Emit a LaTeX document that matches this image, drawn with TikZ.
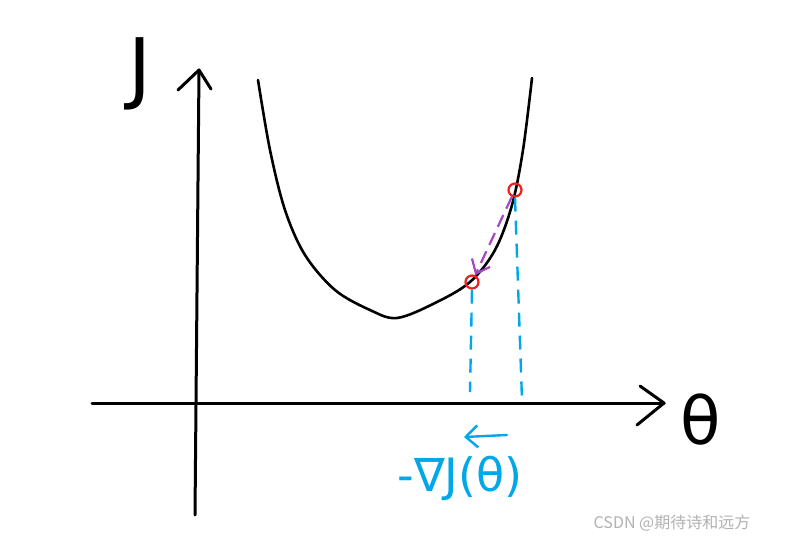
\documentclass[tikz,border=0pt]{standalone}
\usepackage{fontspec}
\setmainfont{DejaVu Sans}
\newfontfamily\cjkfont{Noto Sans CJK SC}
\usetikzlibrary{arrows.meta}
\definecolor{inkblue}{RGB}{0,168,232}
\definecolor{inkred}{RGB}{240,30,30}
\definecolor{inkpurple}{RGB}{165,70,195}
\tikzset{
  ink/.style={line width=3pt, line cap=round, line join=round},
  guide/.style={inkblue, line width=2.4pt, dash pattern=on 14pt off 9pt},
  ptmark/.style={draw=inkred, line width=2.2pt, circle, inner sep=0pt, minimum size=13pt},
}
\begin{document}
\begin{tikzpicture}[x=1pt,y=-1pt]
\path[use as bounding box, fill=white] (0,0) rectangle (785,544);
% axes
\coordinate (ybot) at (195,515);
\coordinate (ytop) at (199,70);
\coordinate (xl) at (92,403);
\coordinate (xr) at (664,403);
\draw[ink] (ybot) -- (ytop);
\draw[ink] (178,90) -- (ytop) -- (211,89);
\draw[ink] (xl) -- (xr);
\draw[ink] (640,386) -- (xr) -- (637,425);
% curve
\draw[ink, line width=2.6pt] plot[smooth, tension=0.55] coordinates {(258,80) (270,150) (285,210) (305,255) (335,290) (370,310) (397,318) (435,303) (470,282) (495,250) (512,205) (523,150) (532,78)};
% points
\coordinate (p1) at (472,282);
\coordinate (p2) at (515,190);
\node[ptmark] (m1) at (p1) {};
\node[ptmark] (m2) at (p2) {};
% purple dashed arrow
\draw[inkpurple, line width=2.2pt, dash pattern=on 13pt off 7pt, -{Straight Barb[length=12pt,width=20pt,line width=2.2pt]}] (m2) -- (m1);
% blue dashed guides
\coordinate (g1) at (470,392);
\coordinate (g2) at (522,400);
\draw[guide] (m1.south) -- (g1);
\draw[guide] (m2.south) -- (g2);
% blue arrow
\coordinate (ba) at (464,437);
\coordinate (bb) at (507,435);
\draw[inkblue, line width=2.4pt, line cap=round, -{Straight Barb[length=12pt,width=22pt,line width=2.4pt]}] (bb) -- (ba);
% labels
\node[font=\fontsize{78}{78}\selectfont] (J) at (140,74) {J};
\node[font=\fontsize{66}{66}\selectfont] (theta) at (701,420) {θ};
\node[inkblue, font=\fontsize{46}{46}\selectfont] (grad) at (460,478) {-∇J(θ)};
\node[gray!60, font=\cjkfont\fontsize{16}{16}\selectfont] (wm) at (672,523) {CSDN @期待诗和远方};
\end{tikzpicture}
\end{document}
